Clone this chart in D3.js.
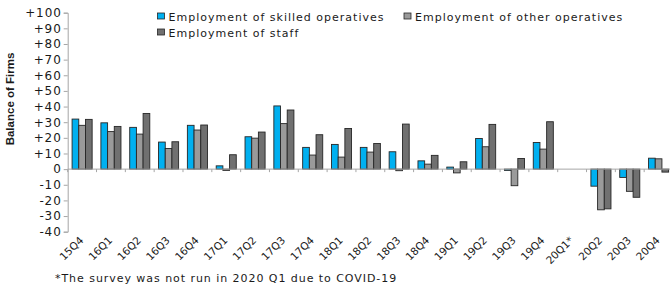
<!DOCTYPE html>
<html>
<head>
<meta charset="utf-8">
<script src="https://cdn.jsdelivr.net/npm/d3@7"></script>
<style>
  body { margin: 0; background: #fff; }
  svg { display: block; }
  text { font-family: "DejaVu Sans", Verdana, sans-serif; fill: #1a1a1a; }
</style>
</head>
<body>
<svg id="chart" width="670" height="291"></svg>
<script>
const quarters = ['15Q4','16Q1','16Q2','16Q3','16Q4','17Q1','17Q2','17Q3','17Q4','18Q1','18Q2',
  '18Q3','18Q4','19Q1','19Q2','19Q3','19Q4','20Q1*','20Q2','20Q3','20Q4']

const skilled = [32, 29.6, 26.7, 17.3, 28, 2.1, 20.7, 40.4, 13.9, 15.8, 13.9,
  11.1, 5.3, 1.3, 19.6, -0.8, 17, null, -10.9, -5.3, 7]
const other = [28, 24, 22.4, 13.2, 25, -0.8, 19.8, 29.1, 9, 7.7, 10.9,
  -1, 3.2, -2.4, 14.3, -10.6, 12.8, null, -26, -14.2, 6.6]
const staff = [31.8, 27.3, 35.6, 17.5, 28.2, 9.2, 23.7, 37.8, 22, 26, 16.4,
  28.8, 8.8, 4.7, 28.6, 6.8, 30.3, null, -25.4, -18, -1.9]

const seriesNames = ['Employment of skilled operatives', 'Employment of other operatives', 'Employment of staff']
const seriesColors = ['#00b0f0', '#9a9a9a', '#707070']
const yTicks = [100, 90, 80, 70, 60, 50, 40, 30, 20, 10, 0, -10, -20, -30, -40]

const svg = d3.select('#chart')

const x = d3.scaleBand()
  .domain(quarters)
  .range([67.7, 673])

const x1 = d3.scaleBand()
  .domain([0, 1, 2])
  .range([0, x.bandwidth()])
  .paddingOuter(0.655)

const y = d3.scaleLinear()
  .domain([-40, 100])
  .range([231.7, 12.7])

// y axis
const yAxis = svg.append('g')
  .attr('transform', 'translate(67.7,0)')
  .call(d3.axisLeft(y).tickValues(yTicks).tickSize(4).tickPadding(2)
    .tickFormat(d => d > 0 ? '+' + d : d))
yAxis.select('.domain').attr('stroke', '#a6a6a6')
yAxis.selectAll('.tick line').attr('stroke', '#a6a6a6')
yAxis.selectAll('.tick text')
  .style('font-size', '12px')
  .style('letter-spacing', '0.9px')
  .attr('fill', '#1a1a1a')

// bars
const series = [skilled, other, staff]
const groups = svg.append('g')
  .selectAll('g')
  .data(quarters)
  .join('g')
  .attr('transform', d => `translate(${x(d)},0)`)

groups.selectAll('rect')
  .data((d, i) => series.map((s, k) => ({ k, v: s[i] })).filter(e => e.v !== null))
  .join('rect')
  .attr('x', d => x1(d.k))
  .attr('width', x1.bandwidth())
  .attr('y', d => y(Math.max(0, d.v)))
  .attr('height', d => Math.abs(y(d.v) - y(0)))
  .attr('fill', d => seriesColors[d.k])
  .attr('stroke', '#262626')
  .attr('stroke-width', 0.9)

// x axis (zero line)
const xAxis = svg.append('g')
  .attr('transform', `translate(0,${y(0)})`)
xAxis.append('line')
  .attr('x1', x.range()[0]).attr('x2', x.range()[1])
  .attr('stroke', '#a6a6a6')
xAxis.selectAll('.xt')
  .data(quarters)
  .join('line')
  .attr('class', 'xt')
  .attr('x1', d => x(d)).attr('x2', d => x(d))
  .attr('y1', 0).attr('y2', 3)
  .attr('stroke', '#a6a6a6')

svg.append('g')
  .selectAll('text')
  .data(quarters)
  .join('text')
  .attr('transform', d => `translate(${x(d) + x.bandwidth() / 2 + 2},241) rotate(-45)`)
  .attr('text-anchor', 'end')
  .style('font-size', '10.5px')
  .text(d => d)

// y label
svg.append('text')
  .attr('transform', 'translate(14,99) rotate(-90)')
  .attr('text-anchor', 'middle')
  .style('font-family', '"Liberation Sans Narrow", "Liberation Sans", sans-serif')
  .style('font-weight', 'bold')
  .style('font-size', '11.5px')
  .text('Balance of Firms')

// legend
const legendPos = [[157.5, 13], [404, 13], [157.5, 29]]
const legend = svg.append('g')
  .selectAll('g')
  .data(seriesNames)
  .join('g')
  .attr('transform', (d, i) => `translate(${legendPos[i][0]},${legendPos[i][1]})`)
legend.append('rect')
  .attr('width', 7).attr('height', 6)
  .attr('fill', (d, i) => seriesColors[i])
  .attr('stroke', '#262626')
  .attr('stroke-width', 0.8)
legend.append('text')
  .attr('x', 11).attr('y', 7.5)
  .style('font-size', '11px')
  .style('letter-spacing', '1px')
  .text(d => d)

// footnote
svg.append('text')
  .attr('x', 55).attr('y', 282)
  .style('font-size', '11px')
  .style('letter-spacing', '0.95px')
  .text('*The survey was not run in 2020 Q1 due to COVID-19')
</script>
</body>
</html>
